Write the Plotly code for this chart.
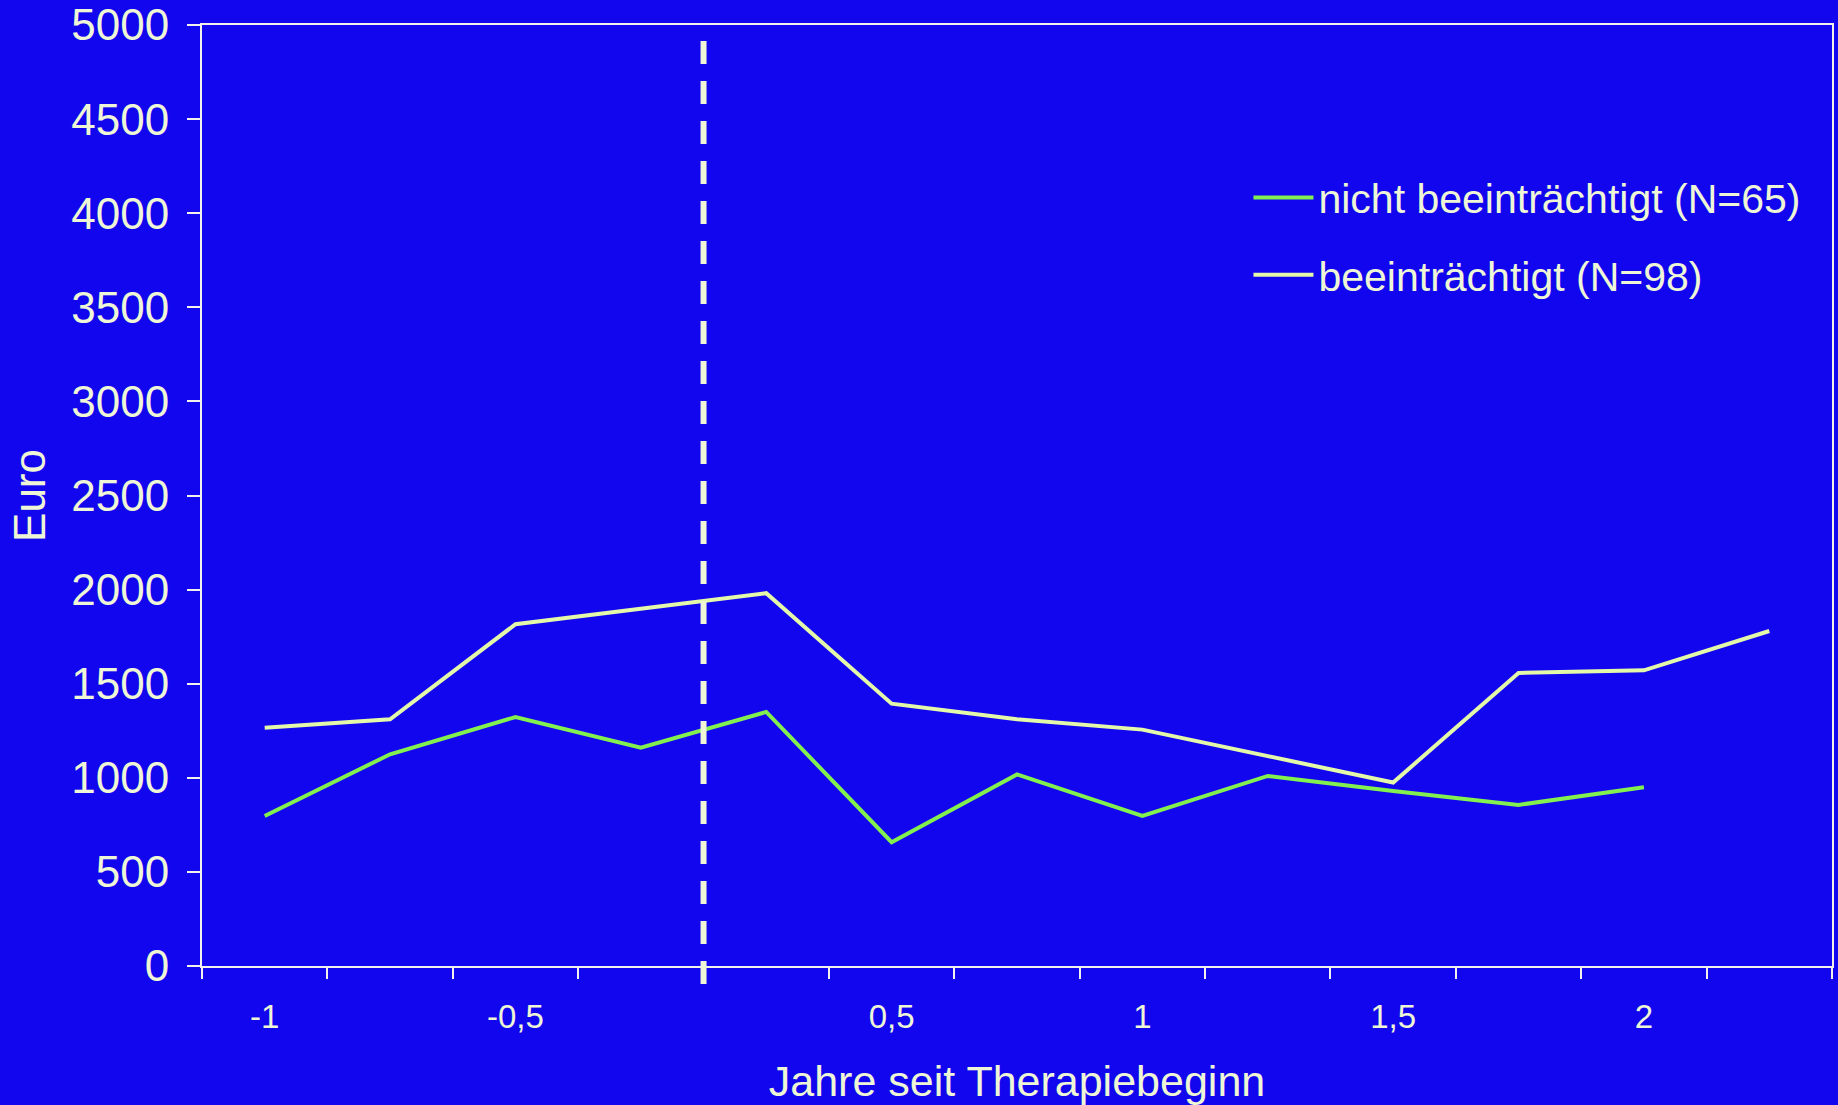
import plotly.graph_objects as go

# Quarter-year periods relative to the start of therapy (0 itself is the boundary)
jahre = [-1, -0.75, -0.5, -0.25, 0.25, 0.5, 0.75, 1, 1.25, 1.5, 1.75, 2, 2.25]

# Mean costs in Euro per quarter
nicht_beeintraechtigt = [797, 1125, 1323, 1160, 1350, 658, 1018, 798, 1010, 930, 856, 950, None]
beeintraechtigt = [1266, 1311, 1816, 1900, 1981, 1394, 1311, 1256, 1117, 975, 1557, 1571, 1780]

serien = ["nicht beeinträchtigt (N=65)", "beeinträchtigt (N=98)"]
farben = ["#82F04E", "#E4F8AA"]

BG = "#1206EE"
TEXT = "#EEF6D6"
AXIS = "#F2F2EA"
FONT = "Liberation Sans, Arial, sans-serif"

idx = list(range(len(jahre)))


def fmt(v):
    return f"{v:g}".replace(".", ",")


# label only the half-year steps
label_pos = [i for i, j in zip(idx, jahre) if (j * 2) == int(j * 2)]
label_txt = [fmt(jahre[i]) for i in label_pos]

fig = go.Figure()
for name, werte, farbe in zip(serien, [nicht_beeintraechtigt, beeintraechtigt], farben):
    fig.add_trace(go.Scatter(
        x=idx, y=werte, name=name, mode="lines",
        line=dict(color=farbe, width=4),
        legendgroup=name,
        connectgaps=False,
    ))

# therapy start: boundary between the last pre- and first post-therapy quarter
start = (idx[jahre.index(-0.25)] + idx[jahre.index(0.25)]) / 2
fig.add_shape(
    type="line", xref="x", yref="paper",
    x0=start, x1=start, y0=-18 / 941, y1=1,
    line=dict(color=TEXT, width=6, dash="23px,17px"),
)

fig.update_layout(
    width=1838, height=1105,
    paper_bgcolor=BG, plot_bgcolor=BG,
    margin=dict(l=202, r=6, t=25, b=139, autoexpand=False),
    font=dict(family=FONT, color=TEXT, size=41),
    showlegend=True,
    legend=dict(
        x=0.642, y=0.852, xanchor="left", yanchor="top",
        bgcolor="rgba(0,0,0,0)",
        font=dict(size=41, color=TEXT, family=FONT),
        tracegroupgap=21,
        itemwidth=60,
    ),
    xaxis=dict(
        range=[-0.5, len(jahre) - 0.5],
        tickmode="array", tickvals=label_pos, ticktext=label_txt,
        ticks="", showgrid=False, zeroline=False,
        showline=True, linecolor=AXIS, linewidth=2, mirror=True,
        tickfont=dict(size=33, color=TEXT, family=FONT),
        ticklabelstandoff=20,
        minor=dict(
            tickmode="array",
            tickvals=[i - 0.5 for i in idx] + [idx[-1] + 0.5],
            ticks="outside", ticklen=11, tickwidth=2, tickcolor=AXIS,
            showgrid=False,
        ),
        title=dict(text="Jahre seit Therapiebeginn",
                   font=dict(size=43, color=TEXT, family=FONT), standoff=32),
        automargin=False,
    ),
    yaxis=dict(
        range=[0, 5000], dtick=500, tick0=0,
        ticks="outside", ticklen=13, tickwidth=2, tickcolor=AXIS,
        showgrid=False, zeroline=False,
        showline=True, linecolor=AXIS, linewidth=2, mirror=True,
        tickfont=dict(size=44, color=TEXT, family=FONT),
        ticklabelstandoff=9,
        title=dict(text="Euro", font=dict(size=44, color=TEXT, family=FONT), standoff=12),
        automargin=False,
    ),
)

fig.write_html("out.html")
